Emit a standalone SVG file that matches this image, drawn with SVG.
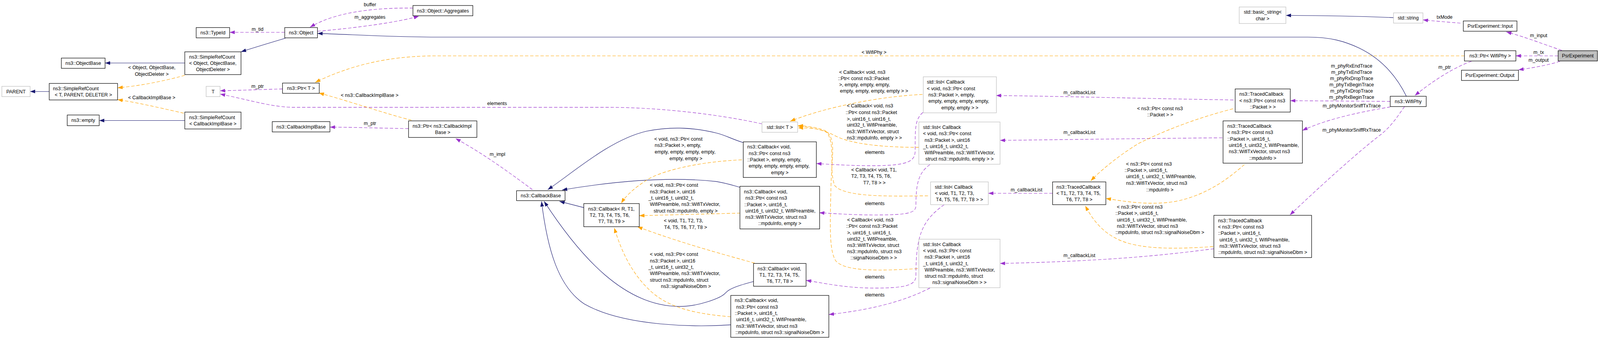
<svg xmlns="http://www.w3.org/2000/svg" width="4355" height="924" viewBox="0 0 4355 924" preserveAspectRatio="xMinYMin meet">
<style>
svg{max-width:100vw}
.n{fill:#fff;stroke:#000;stroke-width:1.3}
.g{fill:#fff;stroke:#bfbfbf;stroke-width:1.3}
.s{fill:#bfbfbf;stroke:#000;stroke-width:1.3}
text{font-family:"Liberation Sans",Arial,Helvetica,sans-serif;font-size:13.2px;fill:#000}
.m{text-anchor:middle}
.inh{fill:none;stroke:#191970;stroke-width:1.2;marker-end:url(#aN)}
.use{fill:none;stroke:#9a32cd;stroke-width:1.2;stroke-dasharray:9,5;marker-end:url(#aP)}
.tpl{fill:none;stroke:#ffa500;stroke-width:1.2;stroke-dasharray:9,5;marker-end:url(#aO)}
</style>
<defs>
<marker id="aN" markerUnits="userSpaceOnUse" markerWidth="14" markerHeight="10" refX="14" refY="5" orient="auto"><path d="M0,0L14,5L0,10z" fill="#191970"/></marker>
<marker id="aP" markerUnits="userSpaceOnUse" markerWidth="14" markerHeight="10" refX="14" refY="5" orient="auto"><path d="M0,0L14,5L0,10z" fill="#9a32cd"/></marker>
<marker id="aO" markerUnits="userSpaceOnUse" markerWidth="14" markerHeight="10" refX="14" refY="5" orient="auto"><path d="M0,0L14,5L0,10z" fill="#ffa500"/></marker>
</defs>
<rect width="4355" height="924" fill="#fff"/>
<g id="edges">
<path class="inh" d="M503,171.5L286,171.5"/>
<path class="inh" d="M134,249L82,249"/>
<path class="tpl" d="M503,205C470,214 400,232 320,239"/>
<path class="tpl" d="M500,308C450,297 380,280 320,271"/>
<path class="inh" d="M503,328L270,328"/>
<path class="use" d="M775,88L625,88"/>
<path class="inh" d="M777,104C740,115 700,127 656,141"/>
<path class="use" d="M769,242C700,244 650,246 599,247"/>
<path class="use" d="M2074,337C1960,312 1800,292 1650,292L800,292C740,292 680,272 599,256"/>
<path class="use" d="M1124,22C1040,21 920,28 844,74"/>
<path class="use" d="M864,85C950,78 1080,62 1140,44"/>
<path class="inh" d="M3828,262C3800,205 3760,160 3700,131C3660,112 3620,101 3560,101L1200,101C1050,101 950,93 864,91"/>
<path class="tpl" d="M3986,152L1190,152C1050,152 950,180 858,224"/>
<path class="tpl" d="M1120,327C1050,310 950,275 868,253"/>
<path class="use" d="M1112,350C1000,348 950,346 898,346"/>
<path class="use" d="M1449,516C1400,480 1320,420 1240,377"/>
<path class="inh" d="M2023,388C1990,378 1975,368 1950,362C1880,345 1820,345 1760,357C1660,380 1560,470 1491,516"/>
<path class="inh" d="M2015,510C1990,503 1975,498 1950,494C1850,483 1720,485 1530,517"/>
<path class="inh" d="M1589,565L1523,548"/>
<path class="inh" d="M2051,766C2010,777 1985,785 1975,797C1962,812 1900,834 1850,834C1700,834 1580,700 1481,548"/>
<path class="inh" d="M1989,884C1900,890 1700,890 1590,827C1520,780 1490,680 1474,548"/>
<path class="tpl" d="M2019,435C1900,440 1800,465 1760,490C1730,510 1705,530 1691,553"/>
<path class="tpl" d="M2015,580L1740,587"/>
<path class="tpl" d="M2054,716C1960,690 1850,660 1735,617"/>
<path class="tpl" d="M1989,862C1900,855 1830,840 1780,800C1720,750 1690,680 1672,620"/>
<path class="tpl" d="M2511,257C2400,262 2250,290 2151,330"/>
<path class="tpl" d="M2501,401C2420,401 2320,395 2270,368C2240,352 2200,345 2172,343"/>
<path class="tpl" d="M2526,533C2450,533 2300,540 2272,505C2255,460 2275,400 2252,362C2238,350 2200,348 2172,348"/>
<path class="tpl" d="M2498,731C2400,737 2300,740 2275,710C2255,680 2260,600 2262,500C2265,420 2275,380 2250,358C2235,348 2200,343 2172,342"/>
<path class="use" d="M2512,306C2490,325 2491,350 2491,410C2491,440 2470,450 2380,451C2320,451 2270,448 2222,445"/>
<path class="use" d="M2531,448C2500,470 2493,500 2493,560C2493,580 2470,585 2380,585C2320,585 2270,581 2230,579"/>
<path class="use" d="M2570,557C2510,600 2493,640 2493,750C2493,775 2470,784 2380,784C2300,784 2240,770 2194,763"/>
<path class="use" d="M2531,784C2480,810 2400,840 2256,856"/>
<path class="use" d="M3357,272C3100,268 2900,262 2711,260"/>
<path class="use" d="M3327,375C3100,377 2900,380 2722,382"/>
<path class="use" d="M2865,526L2690,526"/>
<path class="use" d="M3304,677C3200,690 3050,710 2722,717"/>
<path class="tpl" d="M3356,296C3270,318 3180,350 3100,390C3050,420 3000,460 2969,492"/>
<path class="tpl" d="M3387,448C3350,480 3290,530 3200,548C3130,560 3060,548 3010,540"/>
<path class="tpl" d="M3302,671C3200,678 3100,680 3040,650C3000,630 2975,600 2954,560"/>
<path class="use" d="M3784,276L3512,274"/>
<path class="use" d="M3784,291C3720,302 3620,320 3545,355"/>
<path class="use" d="M3823,290C3805,315 3790,340 3760,365C3700,410 3590,510 3511,585"/>
<path class="inh" d="M3793,48C3700,44 3600,42 3500,42"/>
<path class="use" d="M3975,63C3940,60 3900,57 3873,54"/>
<path class="use" d="M4251,137C4200,120 4150,100 4100,87"/>
<path class="use" d="M4241,152L4126,152"/>
<path class="use" d="M4246,167C4210,178 4170,185 4133,190"/>
<path class="use" d="M4005,167C3960,182 3900,220 3851,260"/>
</g>
<g id="edge-labels">
<text class="m" x="701" y="84.5">m_tid</text>
<text class="m" x="701" y="239.5">m_ptr</text>
<text x="349" y="188.5">&lt; Object, ObjectBase,</text>
<text class="m" x="413" y="206.5">ObjectDeleter &gt;</text>
<text class="m" x="413" y="270.5">&lt; CallbackImplBase &gt;</text>
<text class="m" x="1007" y="16.5">buffer</text>
<text class="m" x="1007" y="51.5">m_aggregates</text>
<text class="m" x="1006" y="263.5">&lt; ns3::CallbackImplBase &gt;</text>
<text class="m" x="1007" y="340.5">m_ptr</text>
<text class="m" x="1354" y="424.5">m_impl</text>
<text class="m" x="1353" y="286.5">elements</text>
<text class="m" x="2379" y="146.5">&lt; WifiPhy &gt;</text>
<text x="1781" y="382.5">&lt; void, ns3::Ptr&lt; const</text>
<text x="1782" y="399.5">ns3::Packet &gt;, empty,</text>
<text x="1782" y="417.5">empty, empty, empty, empty,</text>
<text class="m" x="1867" y="435.5">empty, empty &gt;</text>
<text x="1769" y="508.5">&lt; void, ns3::Ptr&lt; const</text>
<text x="1769" y="526.5">ns3::Packet &gt;, uint16</text>
<text x="1765" y="543.5">_t, uint16_t, uint32_t,</text>
<text x="1769" y="560.5">WifiPreamble, ns3::WifiTxVector,</text>
<text class="m" x="1866" y="578.5">struct ns3::mpduInfo, empty &gt;</text>
<text x="1807" y="605.5">&lt; void, T1, T2, T3,</text>
<text class="m" x="1866" y="623.5">T4, T5, T6, T7, T8 &gt;</text>
<text x="1769" y="696.5">&lt; void, ns3::Ptr&lt; const</text>
<text x="1769" y="714.5">ns3::Packet &gt;, uint16</text>
<text x="1765" y="731.5">_t, uint16_t, uint32_t,</text>
<text x="1769" y="748.5">WifiPreamble, ns3::WifiTxVector,</text>
<text x="1769" y="766.5">struct ns3::mpduInfo, struct</text>
<text class="m" x="1867" y="783.5">ns3::signalNoiseDbm &gt;</text>
<text x="2284" y="200.5">&lt; Callback&lt; void, ns3</text>
<text x="2281" y="217.5">::Ptr&lt; const ns3::Packet</text>
<text x="2284" y="234.5">&gt;, empty, empty, empty,</text>
<text class="m" x="2379" y="252.5">empty, empty, empty, empty &gt; &gt;</text>
<text x="2305" y="292.5">&lt; Callback&lt; void, ns3</text>
<text x="2302" y="310.5">::Ptr&lt; const ns3::Packet</text>
<text x="2305" y="328.5">&gt;, uint16_t, uint16_t,</text>
<text x="2305" y="344.5">uint32_t, WifiPreamble,</text>
<text x="2305" y="362.5">ns3::WifiTxVector, struct</text>
<text class="m" x="2380" y="379.5">ns3::mpduInfo, empty &gt; &gt;</text>
<text x="2317" y="466.5">&lt; Callback&lt; void, T1,</text>
<text x="2317" y="483.5">T2, T3, T4, T5, T6,</text>
<text class="m" x="2380" y="501.5">T7, T8 &gt; &gt;</text>
<text x="2306" y="602.5">&lt; Callback&lt; void, ns3</text>
<text x="2303" y="619.5">::Ptr&lt; const ns3::Packet</text>
<text x="2306" y="637.5">&gt;, uint16_t, uint16_t,</text>
<text x="2306" y="654.5">uint32_t, WifiPreamble,</text>
<text x="2306" y="671.5">ns3::WifiTxVector, struct</text>
<text x="2306" y="689.5">ns3::mpduInfo, struct ns3</text>
<text class="m" x="2378" y="706.5">::signalNoiseDbm &gt; &gt;</text>
<text class="m" x="2381" y="418.5">elements</text>
<text class="m" x="2381" y="558.5">elements</text>
<text class="m" x="2381" y="758.5">elements</text>
<text class="m" x="2381" y="806.5">elements</text>
<text class="m" x="2938" y="256.5">m_callbackList</text>
<text class="m" x="2938" y="364.5">m_callbackList</text>
<text class="m" x="2794" y="520.5">m_callbackList</text>
<text class="m" x="2938" y="699.5">m_callbackList</text>
<text x="3095" y="299.5">&lt; ns3::Ptr&lt; const ns3</text>
<text class="m" x="3158" y="316.5">::Packet &gt; &gt;</text>
<text x="3065" y="450.5">&lt; ns3::Ptr&lt; const ns3</text>
<text x="3061" y="467.5">::Packet &gt;, uint16_t,</text>
<text x="3065" y="484.5">uint16_t, uint32_t, WifiPreamble,</text>
<text x="3065" y="502.5">ns3::WifiTxVector, struct ns3</text>
<text class="m" x="3157" y="520.5">::mpduInfo &gt;</text>
<text x="3040" y="567.5">&lt; ns3::Ptr&lt; const ns3</text>
<text x="3036" y="584.5">::Packet &gt;, uint16_t,</text>
<text x="3040" y="602.5">uint16_t, uint32_t, WifiPreamble,</text>
<text x="3040" y="619.5">ns3::WifiTxVector, struct ns3</text>
<text class="m" x="3157" y="636.5">::mpduInfo, struct ns3::signalNoiseDbm &gt;</text>
<text class="m" x="3679" y="183.5">m_phyRxEndTrace</text>
<text class="m" x="3679" y="200.5">m_phyTxEndTrace</text>
<text class="m" x="3679" y="217.5">m_phyRxDropTrace</text>
<text class="m" x="3679" y="234.5">m_phyTxBeginTrace</text>
<text class="m" x="3679" y="252">m_phyTxDropTrace</text>
<text class="m" x="3679" y="269.5">m_phyRxBeginTrace</text>
<text class="m" x="3679" y="292.5">m_phyMonitorSniffTxTrace</text>
<text class="m" x="3679" y="358.5">m_phyMonitorSniffRxTrace</text>
<text class="m" x="3932" y="51.5">txMode</text>
<text class="m" x="4188" y="100.5">m_input</text>
<text class="m" x="4188" y="146.5">m_tx</text>
<text class="m" x="4188" y="168.5">m_output</text>
<text class="m" x="3932" y="187.5">m_ptr</text>
</g>
<g id="n-typeid"><rect class="n" x="534" y="75" width="91" height="28"/><text class="m" x="579.5" y="93.6">ns3::TypeId</text></g>
<g id="n-object"><rect class="n" x="775" y="75" width="89" height="28"/><text class="m" x="819.5" y="93.6">ns3::Object</text></g>
<g id="n-aggregates"><rect class="n" x="1124" y="15" width="163" height="28"/><text class="m" x="1205.5" y="33.6">ns3::Object::Aggregates</text></g>
<g id="n-objectbase"><rect class="n" x="167" y="158" width="119" height="28"/><text class="m" x="226.5" y="176.6">ns3::ObjectBase</text></g>
<g id="n-src-object"><rect class="n" x="503" y="141" width="153" height="62"/><text x="515" y="159.3">ns3::SimpleRefCount</text><text x="515" y="176.6">&lt; Object, ObjectBase,</text><text class="m" x="579.5" y="193.9">ObjectDeleter &gt;</text></g>
<g id="n-parent"><rect class="g" x="5" y="235" width="77" height="28"/><text class="m" x="43.5" y="253.6">PARENT</text></g>
<g id="n-src-t"><rect class="n" x="134" y="227" width="186" height="45"/><text x="144" y="245.5">ns3::SimpleRefCount</text><text class="m" x="227" y="262.8">&lt; T, PARENT, DELETER &gt;</text></g>
<g id="n-t"><rect class="g" x="561" y="235" width="38" height="28"/><text class="m" x="580" y="253.6">T</text></g>
<g id="n-empty"><rect class="n" x="183" y="313" width="87" height="29"/><text class="m" x="226.5" y="332.1">ns3::empty</text></g>
<g id="n-src-cbib"><rect class="n" x="503" y="305" width="153" height="46"/><text x="515" y="324">ns3::SimpleRefCount</text><text class="m" x="579.5" y="341.3">&lt; CallbackImplBase &gt;</text></g>
<g id="n-ptr-t"><rect class="n" x="769" y="226" width="100" height="28"/><text class="m" x="819" y="244.6">ns3::Ptr&lt; T &gt;</text></g>
<g id="n-cbib"><rect class="n" x="741" y="331" width="157" height="28"/><text class="m" x="819.5" y="349.6">ns3::CallbackImplBase</text></g>
<g id="n-ptr-cbib"><rect class="n" x="1112" y="329" width="186" height="45"/><text x="1123" y="347.5">ns3::Ptr&lt; ns3::CallbackImpl</text><text class="m" x="1205" y="364.8">Base &gt;</text></g>
<g id="n-callbackbase"><rect class="n" x="1406" y="519" width="132" height="27"/><text class="m" x="1472" y="537.1">ns3::CallbackBase</text></g>
<g id="n-callback-r"><rect class="n" x="1589" y="554" width="151" height="63"/><text x="1601" y="572.8">ns3::Callback&lt; R, T1,</text><text x="1605" y="590.1">T2, T3, T4, T5, T6,</text><text class="m" x="1664.5" y="607.4">T7, T8, T9 &gt;</text></g>
<g id="n-list-t"><rect class="g" x="2074" y="332" width="97" height="28"/><text class="m" x="2122.5" y="350.6">std::list&lt; T &gt;</text></g>
<g id="n-cb-a"><rect class="n" x="2023" y="386" width="199" height="97"/><text x="2034" y="404.5">ns3::Callback&lt; void,</text><text x="2038" y="421.8">ns3::Ptr&lt; const ns3</text><text x="2034" y="439.1">::Packet &gt;, empty, empty,</text><text x="2038" y="456.4">empty, empty, empty, empty,</text><text class="m" x="2122.5" y="473.7">empty &gt;</text></g>
<g id="n-cb-b"><rect class="n" x="2014" y="507" width="217" height="116"/><text x="2025" y="526.4">ns3::Callback&lt; void,</text><text x="2029" y="543.7">ns3::Ptr&lt; const ns3</text><text x="2026" y="561">::Packet &gt;, uint16_t,</text><text x="2029" y="578.3">uint16_t, uint32_t, WifiPreamble,</text><text x="2029" y="595.6">ns3::WifiTxVector, struct ns3</text><text class="m" x="2122.5" y="612.9">::mpduInfo, empty &gt;</text></g>
<g id="n-cb-c"><rect class="n" x="2051" y="717" width="143" height="62"/><text x="2062" y="735.3">ns3::Callback&lt; void,</text><text x="2067" y="752.6">T1, T2, T3, T4, T5,</text><text class="m" x="2122.5" y="769.9">T6, T7, T8 &gt;</text></g>
<g id="n-cb-d"><rect class="n" x="1989" y="804" width="267" height="114"/><text x="2000" y="822.4">ns3::Callback&lt; void,</text><text x="2004" y="839.7">ns3::Ptr&lt; const ns3</text><text x="2000" y="857">::Packet &gt;, uint16_t,</text><text x="2004" y="874.3">uint16_t, uint32_t, WifiPreamble,</text><text x="2004" y="891.6">ns3::WifiTxVector, struct ns3</text><text class="m" x="2122.5" y="908.9">::mpduInfo, struct ns3::signalNoiseDbm &gt;</text></g>
<g id="n-list-a"><rect class="g" x="2513" y="209" width="199" height="98"/><text x="2523" y="228">std::list&lt; Callback</text><text x="2523" y="245.3">&lt; void, ns3::Ptr&lt; const</text><text x="2527" y="262.6">ns3::Packet &gt;, empty,</text><text x="2527" y="279.9">empty, empty, empty, empty,</text><text class="m" x="2612.5" y="297.2">empty, empty &gt; &gt;</text></g>
<g id="n-list-b"><rect class="g" x="2501" y="332" width="221" height="115"/><text x="2512.5" y="350.9">std::list&lt; Callback</text><text x="2512.5" y="368.2">&lt; void, ns3::Ptr&lt; const</text><text x="2516.7" y="385.5">ns3::Packet &gt;, uint16</text><text x="2512.5" y="402.8">_t, uint16_t, uint32_t,</text><text x="2516.7" y="420.1">WifiPreamble, ns3::WifiTxVector,</text><text class="m" x="2611.5" y="437.4">struct ns3::mpduInfo, empty &gt; &gt;</text></g>
<g id="n-list-c"><rect class="g" x="2533" y="495" width="157" height="62"/><text x="2544.6" y="513.3">std::list&lt; Callback</text><text x="2544.6" y="530.6">&lt; void, T1, T2, T3,</text><text class="m" x="2611.5" y="547.9">T4, T5, T6, T7, T8 &gt; &gt;</text></g>
<g id="n-list-d"><rect class="g" x="2501" y="651" width="221" height="132"/><text x="2512.5" y="669.7">std::list&lt; Callback</text><text x="2512.5" y="687">&lt; void, ns3::Ptr&lt; const</text><text x="2516.7" y="704.3">ns3::Packet &gt;, uint16</text><text x="2512.5" y="721.6">_t, uint16_t, uint32_t,</text><text x="2516.7" y="738.9">WifiPreamble, ns3::WifiTxVector,</text><text x="2516.7" y="756.2">struct ns3::mpduInfo, struct</text><text class="m" x="2611.5" y="773.5">ns3::signalNoiseDbm &gt; &gt;</text></g>
<g id="n-basic-string"><rect class="g" x="3373" y="19" width="127" height="45"/><text x="3385.5" y="37.5">std::basic_string&lt;</text><text class="m" x="3436.5" y="54.8">char &gt;</text></g>
<g id="n-tc-a"><rect class="n" x="3362" y="242" width="150" height="63"/><text x="3373.5" y="260.8">ns3::TracedCallback</text><text x="3373.5" y="278.1">&lt; ns3::Ptr&lt; const ns3</text><text class="m" x="3437" y="295.4">::Packet &gt; &gt;</text></g>
<g id="n-tc-b"><rect class="n" x="3329" y="329" width="216" height="115"/><text x="3340.7" y="347.9">ns3::TracedCallback</text><text x="3340.7" y="365.2">&lt; ns3::Ptr&lt; const ns3</text><text x="3340.7" y="382.5">::Packet &gt;, uint16_t,</text><text x="3344.7" y="399.8">uint16_t, uint32_t, WifiPreamble,</text><text x="3344.7" y="417.1">ns3::WifiTxVector, struct ns3</text><text class="m" x="3437" y="434.4">::mpduInfo &gt;</text></g>
<g id="n-tc-t"><rect class="n" x="2865" y="495" width="145" height="62"/><text x="2875.6" y="513.3">ns3::TracedCallback</text><text x="2875.6" y="530.6">&lt; T1, T2, T3, T4, T5,</text><text class="m" x="2937.5" y="547.9">T6, T7, T8 &gt;</text></g>
<g id="n-tc-d"><rect class="n" x="3304" y="586" width="266" height="115"/><text x="3315.3" y="604.9">ns3::TracedCallback</text><text x="3315.3" y="622.2">&lt; ns3::Ptr&lt; const ns3</text><text x="3315.3" y="639.5">::Packet &gt;, uint16_t,</text><text x="3319.3" y="656.8">uint16_t, uint32_t, WifiPreamble,</text><text x="3319.3" y="674.1">ns3::WifiTxVector, struct ns3</text><text class="m" x="3437" y="691.4">::mpduInfo, struct ns3::signalNoiseDbm &gt;</text></g>
<g id="n-string"><rect class="g" x="3793" y="35" width="80" height="28"/><text class="m" x="3833" y="53.6">std::string</text></g>
<g id="n-input"><rect class="n" x="3983" y="57" width="146" height="28"/><text class="m" x="4056" y="75.6">PsrExperiment::Input</text></g>
<g id="n-ptr-wifiphy"><rect class="n" x="3986" y="138" width="140" height="28"/><text class="m" x="4056" y="156.6">ns3::Ptr&lt; WifiPhy &gt;</text></g>
<g id="n-psrexperiment"><rect class="s" x="4241" y="138" width="107" height="28"/><text class="m" x="4294.5" y="156.6">PsrExperiment</text></g>
<g id="n-output"><rect class="n" x="3978" y="191" width="155" height="28"/><text class="m" x="4055.5" y="209.6">PsrExperiment::Output</text></g>
<g id="n-wifiphy"><rect class="n" x="3784" y="262" width="98" height="28"/><text class="m" x="3833" y="280.6">ns3::WifiPhy</text></g>
</svg>
